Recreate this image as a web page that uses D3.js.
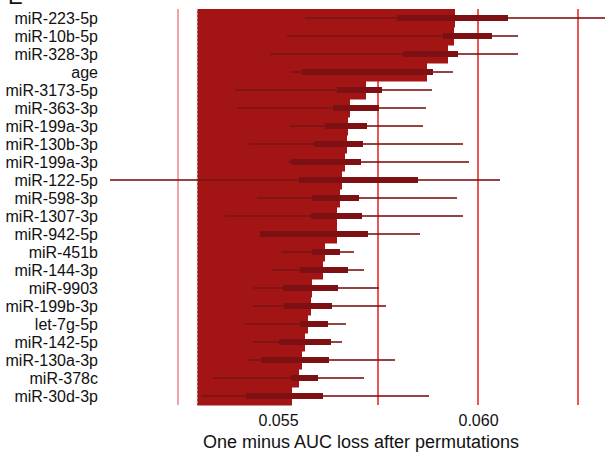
<!DOCTYPE html>
<html><head><meta charset="utf-8">
<script src="https://cdn.jsdelivr.net/npm/d3@7"></script>
<style>body{margin:0;background:#fff;}svg{display:block;font-family:"Liberation Sans",Arial,Helvetica,sans-serif;}</style>
</head><body><svg id="c" width="605" height="452"></svg>
<script>
const features = ["miR-223-5p","miR-10b-5p","miR-328-3p","age","miR-3173-5p","miR-363-3p","miR-199a-3p","miR-130b-3p","miR-199a-3p","miR-122-5p","miR-598-3p","miR-1307-3p","miR-942-5p","miR-451b","miR-144-3p","miR-9903","miR-199b-3p","let-7g-5p","miR-142-5p","miR-130a-3p","miR-378c","miR-30d-3p"];
const importance = [0.059425,0.0594,0.05925,0.058725,0.0572,0.0568,0.05675,0.056725,0.056675,0.0566,0.05655,0.056475,0.056475,0.056175,0.056125,0.05585,0.055825,0.05575,0.055675,0.0556,0.055525,0.05535];
const whiskerLow = [0.055675,0.055225,0.0548,0.0553,0.053925,0.053975,0.0553,0.054275,0.05525,0.0508,0.054475,0.053675,0.05455,0.055075,0.05485,0.054375,0.054375,0.05415,0.054375,0.054225,0.053375,0.053075];
const q1 = [0.057975,0.059125,0.058125,0.0556,0.056475,0.056375,0.056175,0.0559,0.055325,0.055525,0.05585,0.055825,0.05455,0.05585,0.05555,0.055125,0.05515,0.05555,0.055025,0.054575,0.055325,0.0542];
const q3 = [0.06075,0.06035,0.0595,0.058875,0.0576,0.057525,0.057225,0.057125,0.057075,0.0585,0.057025,0.0571,0.05725,0.05655,0.05675,0.0565,0.05635,0.05625,0.056325,0.056275,0.056,0.056125];
const whiskerHigh = [0.06455,0.061,0.061,0.059375,0.05885,0.0587,0.058625,0.059625,0.059775,0.06055,0.059475,0.059625,0.05855,0.0569,0.05715,0.057525,0.0577,0.0567,0.0566,0.057925,0.05715,0.058775];
const baseline = 0.05298;
const refLines = [0.0525,0.0575,0.060,0.0625];
const tickValues = [0.055,0.060];
const tickLabels = ["0.055","0.060"];
const axisTitle = "One minus AUC loss after permutations";

const rows = features.map((f,i)=>({key:i,label:f,imp:importance[i],lo:whiskerLow[i],q1:q1[i],q3:q3[i],hi:whiskerHigh[i]}));
const svg = d3.select("#c");
const x = d3.scaleLinear().domain([0.055,0.060]).range([278,478]);
const y = d3.scaleBand().domain(rows.map(d=>d.key)).range([9,405]).padding(0);

// reference lines (behind)
svg.append("g").selectAll("line").data(refLines).join("line")
  .attr("x1",d=>x(d)).attr("x2",d=>x(d)).attr("y1",9).attr("y2",405)
  .attr("stroke",(d,i)=>i===0?"#f3a3a3":"#ee5555").attr("stroke-width",2);

// bars
svg.append("g").selectAll("rect").data(rows).join("rect")
  .attr("x",x(baseline)).attr("y",d=>y(d.key))
  .attr("width",d=>x(d.imp)-x(baseline)).attr("height",y.bandwidth()+0.5)
  .attr("fill","#a31515");

// baseline dashed
svg.append("line").attr("x1",x(baseline)).attr("x2",x(baseline)).attr("y1",9).attr("y2",405)
  .attr("stroke","#bbbbbb").attr("stroke-width",1).attr("stroke-dasharray","2,2");

// whiskers
svg.append("g").selectAll("line").data(rows).join("line")
  .attr("x1",d=>x(d.lo)).attr("x2",d=>x(d.hi))
  .attr("y1",d=>y(d.key)+y.bandwidth()/2).attr("y2",d=>y(d.key)+y.bandwidth()/2)
  .attr("stroke","#7a1414").attr("stroke-opacity",0.8).attr("stroke-width",2);

// IQR
svg.append("g").selectAll("line").data(rows).join("line")
  .attr("x1",d=>x(d.q1)).attr("x2",d=>x(d.q3))
  .attr("y1",d=>y(d.key)+y.bandwidth()/2).attr("y2",d=>y(d.key)+y.bandwidth()/2)
  .attr("stroke","#7c1012").attr("stroke-width",6);

// labels
svg.append("g").selectAll("text").data(rows).join("text")
  .attr("x",98).attr("y",d=>y(d.key)+y.bandwidth()/2+6)
  .attr("text-anchor","end").attr("font-size",16).attr("fill","#111")
  .text(d=>d.label);

// x axis ticks
const ax = svg.append("g").attr("transform","translate(0,405)")
  .call(d3.axisBottom(x).tickValues(tickValues).tickFormat((d,i)=>tickLabels[i]).tickSize(0).tickPadding(10));
ax.select(".domain").remove();
ax.selectAll("text").attr("font-size",16).attr("fill","#111").attr("font-family","Liberation Sans, Arial, sans-serif");

svg.append("text").attr("x",361).attr("y",448).attr("text-anchor","middle")
  .attr("font-size",18).attr("fill","#111").text(axisTitle);

// panel letter (cropped)
svg.append("text").attr("x",8).attr("y",4).attr("font-size",22).attr("fill","#111").text("E");
</script></body></html>
